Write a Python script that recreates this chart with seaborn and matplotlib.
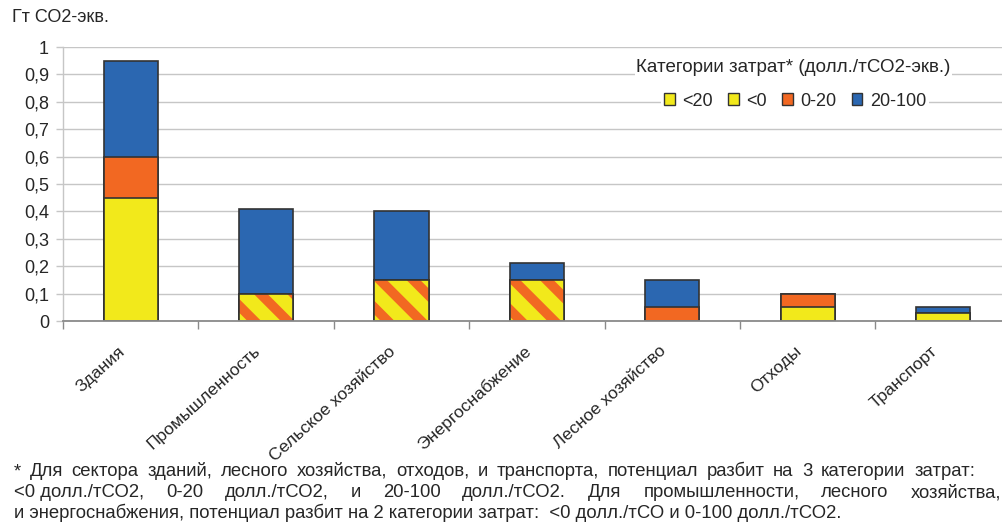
import numpy as np
import pandas as pd
import matplotlib
matplotlib.use("Agg")
import matplotlib.pyplot as plt
import matplotlib.transforms as mtrans
import seaborn as sns
from matplotlib.patches import Patch

# ---------------- data ----------------
sectors = ["Здания", "Промышленность", "Сельское хозяйство", "Энергоснабжение",
           "Лесное хозяйство", "Отходы", "Транспорт"]
cost_lt20 = [0.00, 0.10, 0.15, 0.15, 0.00, 0.00, 0.00]   # hatched "<20"
cost_lt0 = [0.45, 0.00, 0.00, 0.00, 0.00, 0.05, 0.03]
cost_0_20 = [0.15, 0.00, 0.00, 0.00, 0.05, 0.05, 0.00]
cost_20_100 = [0.35, 0.31, 0.25, 0.06, 0.10, 0.00, 0.02]
legend_labels = ["<20", "<0", "0-20", "20-100"]
yticks = [0, 0.1, 0.2, 0.3, 0.4, 0.5, 0.6, 0.7, 0.8, 0.9, 1.0]
ytick_labels = ["0", "0,1", "0,2", "0,3", "0,4", "0,5", "0,6", "0,7", "0,8", "0,9", "1"]
y_title = "Гт СО2-экв."
legend_title = "Категории затрат* (долл./тСО2-экв.)"
foot1 = "* Для сектора зданий, лесного хозяйства, отходов, и транспорта, потенциал разбит на 3 категории затрат:"
foot2 = ["<0 долл./тСО2,", "0-20", "долл./тСО2,", "и", "20-100", "долл./тСО2.", "Для",
         "промышленности,", "лесного", "хозяйства,"]
foot3 = "и энергоснабжения, потенциал разбит на 2 категории затрат:  <0 долл./тСО и 0-100 долл./тСО2."

# ---------------- style ----------------
YELLOW = "#F2E91B"
ORANGE = "#F26822"
BLUE = "#2B67B1"
EDGE = "#333333"
GRID = "#c6c6c6"

sns.set_theme(style="white")
plt.rcParams["font.family"] = ["Liberation Sans", "DejaVu Sans"]
plt.rcParams["hatch.linewidth"] = 7.0

df = pd.DataFrame({
    "sector": sectors,
    "lt20": cost_lt20,
    "lt0": cost_lt0,
    "c0_20": cost_0_20,
    "c20_100": cost_20_100,
})
df["cum_yellow"] = df["lt20"] + df["lt0"]
df["cum_orange"] = df["cum_yellow"] + df["c0_20"]
df["cum_total"] = df["cum_orange"] + df["c20_100"]

fig = plt.figure(figsize=(10.02, 5.29), dpi=100)
W, H = 1002, 529
ax = fig.add_axes([63 / W, 1 - 321 / H, (1010.7 - 63) / W, (321 - 47) / H])
ax.set_axisbelow(True)

bw = 0.4
common = dict(data=df, x="sector", order=sectors, ax=ax, width=bw, saturation=1,
              errorbar=None)
sns.barplot(y="cum_total", color=BLUE, edgecolor=EDGE, linewidth=1.2, **common)
sns.barplot(y="cum_orange", color=ORANGE, edgecolor=EDGE, linewidth=1.2, **common)
sns.barplot(y="cum_yellow", color=YELLOW, edgecolor=EDGE, linewidth=1.2, **common)

n0 = len(ax.patches)
sns.barplot(y="lt20", color=YELLOW, **common)
for p in ax.patches[n0:]:
    p.set_edgecolor(ORANGE)
    p.set_hatch("\\")
    p.set_linewidth(0)
n1 = len(ax.patches)
sns.barplot(y="lt20", color=YELLOW, **common)
for p in ax.patches[n1:]:
    p.set_facecolor("none")
    p.set_edgecolor(EDGE)
    p.set_linewidth(1.2)
    if p.get_height() == 0:
        p.set_visible(False)

# axes styling
ax.set_xlim(-0.5, len(sectors) - 0.5)
ax.set_ylim(0, 1.0)
ax.set_yticks(yticks)
ax.set_yticklabels(ytick_labels, fontsize=13)
ax.yaxis.grid(True, color=GRID, linewidth=1)
ax.xaxis.grid(False)
ax.set_xlabel("")
ax.set_ylabel("")
for s in ["top", "right"]:
    ax.spines[s].set_visible(False)
ax.spines["left"].set_color(GRID)
ax.spines["left"].set_linewidth(1)
ax.spines["bottom"].set_color("#8a8a8a")
ax.spines["bottom"].set_linewidth(1.3)
ax.tick_params(axis="y", length=5, width=1, color=GRID, direction="out", pad=5,
               left=True)
ax.set_xticks(np.arange(len(sectors)))
ax.set_xticklabels(sectors, rotation=42, ha="right", rotation_mode="anchor",
                   fontsize=12.6)
ax.tick_params(axis="x", which="major", length=0, pad=14, bottom=True)
ax.set_xticks(np.arange(len(sectors) + 1) - 0.5, minor=True)
ax.tick_params(axis="x", which="minor", length=6, width=1, color="#8a8a8a",
               direction="out", bottom=True)
shift = mtrans.ScaledTranslation(-13 / 100, -3 / 100, fig.dpi_scale_trans)
for lab in ax.get_xticklabels():
    lab.set_transform(lab.get_transform() + shift)

fig.text(12 / W, 1 - 18 / H, y_title, fontsize=13, ha="left", va="center")

# legend
handles = [Patch(facecolor=c, edgecolor=EDGE, linewidth=1) for c in
           [YELLOW, YELLOW, ORANGE, BLUE]]
leg = fig.legend(handles, legend_labels, ncol=4, loc="center",
                 bbox_to_anchor=(795 / W, 1 - 101 / H), fontsize=13,
                 frameon=True, handlelength=0.6, handleheight=0.6,
                 handletextpad=0.4, columnspacing=0.85, borderpad=0.15,
                 borderaxespad=0)
leg.get_frame().set_facecolor("white")
leg.get_frame().set_edgecolor("none")
leg.get_frame().set_alpha(1)
fig.text(793 / W, 1 - 68 / H, legend_title, fontsize=13.5, ha="center",
         va="center", bbox=dict(facecolor="white", edgecolor="none", pad=1))

# footnote
FS = 13.3
r = fig.canvas.get_renderer()

def justify(words, ybase, x0, x1):
    ts = [fig.text(0, ybase, w, fontsize=FS, va="baseline", ha="left")
          for w in words]
    widths = [t.get_window_extent(r).width for t in ts]
    gap = (x1 - x0 - sum(widths)) / (len(words) - 1)
    x = x0
    for t, w in zip(ts, widths):
        t.set_x(x / W)
        x += w + gap

justify(foot1.split(" "), 1 - 476 / H, 14, 975)
justify(foot2, 1 - 497 / H, 14, 1001)
fig.text(14 / W, 1 - 518 / H, foot3, fontsize=FS, va="baseline", ha="left")

fig.savefig("out.png", dpi=100)
